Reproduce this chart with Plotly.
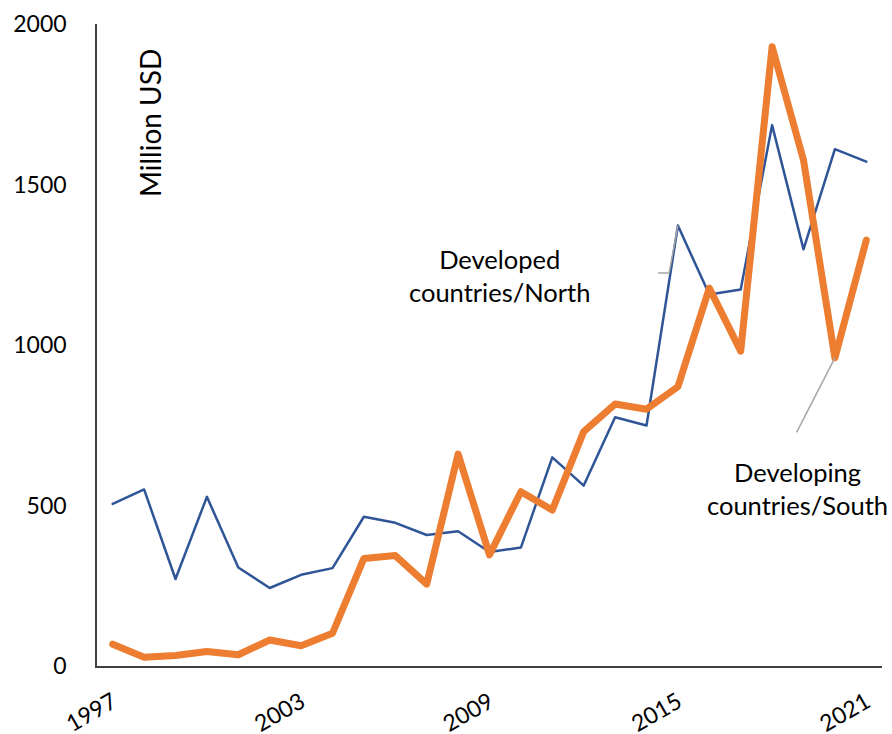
import plotly.graph_objects as go

years = list(range(1997, 2022))
developed_north = [505, 550, 271, 527, 307, 243, 284, 305, 465, 446, 408, 420, 355, 369,
                   650, 562, 775, 749, 1372, 1157, 1173, 1685, 1298, 1610, 1571]
developing_south = [68, 27, 33, 45, 35, 81, 63, 102, 335, 344, 255, 660, 346, 543,
                    486, 730, 816, 800, 870, 1177, 981, 1929, 1576, 960, 1327]
tick_years = [1997, 2003, 2009, 2015, 2021]
y_ticks = [0, 500, 1000, 1500, 2000]

BLUE = "#2F5597"
ORANGE = "#ED7D31"
FONT = "Lato"

fig = go.Figure()
fig.add_trace(go.Scatter(x=years, y=developed_north, mode="lines",
                         line=dict(color=BLUE, width=2.5), name="Developed countries/North"))
fig.add_trace(go.Scatter(x=years, y=developing_south, mode="lines",
                         line=dict(color=ORANGE, width=7), name="Developing countries/South"))

# leader lines from the labels to the points they describe
i15 = years.index(2015)
i20 = years.index(2020)
fig.add_shape(type="path",
              path=f"M {years[i15]},{developed_north[i15]} L {years[i15]-0.28},{developed_north[i15]-148} "
                   f"L {years[i15]-0.63},{developed_north[i15]-148}",
              line=dict(color="#A6A6A6", width=1.5))
fig.add_shape(type="line", x0=years[i20], y0=developing_south[i20],
              x1=years[i20]-1.22, y1=developing_south[i20]-232,
              line=dict(color="#A6A6A6", width=1.5))

fig.add_annotation(x=2009.31, y=1215, xref="x", yref="y", showarrow=False,
                   xanchor="center", yanchor="middle",
                   text="Developed<br>countries/North", align="center",
                   font=dict(family=FONT, size=25.5, color="black"))
fig.add_annotation(x=2018.8, y=554, xref="x", yref="y", showarrow=False,
                   xanchor="center", yanchor="middle",
                   text="Developing<br>countries/South", align="center",
                   font=dict(family=FONT, size=25.5, color="black"))
fig.add_annotation(x=(150 - 97) / 785, y=(666 - 123) / 642, xref="paper", yref="paper",
                   showarrow=False, xanchor="center", yanchor="middle",
                   text="Million USD", textangle=-90,
                   font=dict(family=FONT, size=28, color="black"))

fig.update_layout(
    width=892, height=734,
    margin=dict(l=97, r=10, t=24, b=68),
    paper_bgcolor="white", plot_bgcolor="white",
    showlegend=False,
    font=dict(family=FONT, size=23, color="black"),
)
fig.update_xaxes(range=[1996.5, 2021.5], tickvals=tick_years, ticktext=[str(t) for t in tick_years],
                 tickangle=-30, showgrid=False, zeroline=False, automargin=False,
                 showline=True, linecolor="#404040", linewidth=1.5,
                 ticks="outside", ticklen=12, tickcolor="rgba(0,0,0,0)")
fig.update_yaxes(range=[0, 2000], tickvals=y_ticks, showgrid=False, zeroline=False, automargin=False,
                 showline=True, linecolor="#404040", linewidth=1.5,
                 ticks="outside", ticklen=24, tickcolor="rgba(0,0,0,0)")

post = """
document.querySelectorAll('.scatterlayer path.js-line').forEach(function(p){
  p.style.strokeLinejoin = 'round';
  p.style.strokeLinecap = 'round';
});
"""
fig.write_html("out.html", post_script=post)
